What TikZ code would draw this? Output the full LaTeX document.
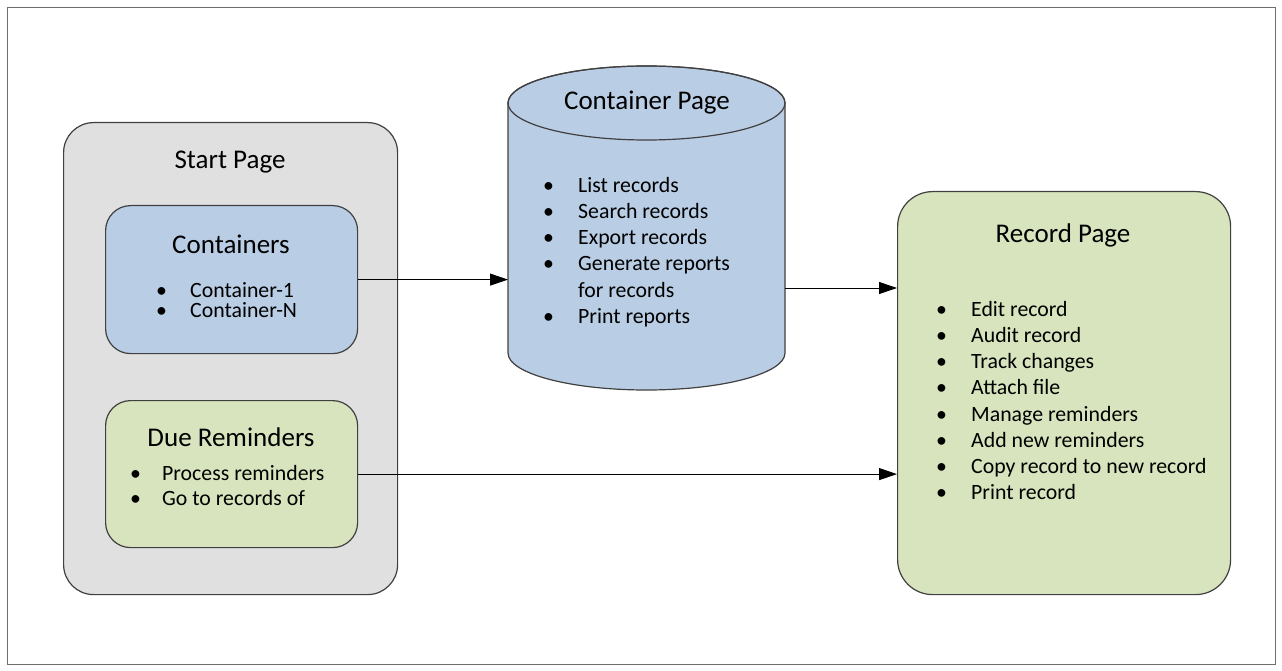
\documentclass[tikz,border=0pt]{standalone}
\usepackage{fontspec}
\setmainfont{Carlito}
\usetikzlibrary{arrows.meta}
\definecolor{boxgray}{RGB}{224,224,224}
\definecolor{boxblue}{RGB}{185,205,229}
\definecolor{boxgreen}{RGB}{215,228,189}
\definecolor{edgecol}{RGB}{64,64,64}
\definecolor{framecol}{RGB}{110,110,110}
\newcommand\bl[1]{\makebox[35pt][l]{\textbullet}#1}
\begin{document}
\begin{tikzpicture}[x=1pt,y=-1pt,
  panel/.style={draw=edgecol, line width=1.2pt, rounded corners=#1, inner sep=0pt, anchor=north west},
  title/.style={font=\fontsize{27}{32}\selectfont, text=black, inner sep=0pt},
  list/.style={font=\fontsize{21.8}{#1}\selectfont, text=black, align=left, anchor=north west, inner sep=0pt},
  conn/.style={draw=black, line width=1pt, -{Triangle[length=18pt,width=12pt]}}]
\useasboundingbox (0,0) rectangle (1282,671);
\draw[framecol, line width=1pt] (7,8) rectangle (1275,664);

% Start page
\node[panel=30pt, fill=boxgray, minimum width=334pt, minimum height=472pt] (start) at (63,122) {};
\node[title] (starttitle) at (230,162) {Start Page};

\node[panel=25pt, fill=boxblue, minimum width=252pt, minimum height=148pt] (cont) at (105,205) {};
\node[title] (conttitle) at (231,244) {Containers};
\node[list=20pt] (contlist) at (156,282) {\makebox[34pt][l]{\textbullet}Container-1\\\makebox[34pt][l]{\textbullet}Container-N};

\node[panel=25pt, fill=boxgreen, minimum width=252pt, minimum height=147pt] (due) at (105,400) {};
\node[title] (duetitle) at (231,437) {Due Reminders};
\node[list=25pt] (duelist) at (130,465) {\makebox[32pt][l]{\textbullet}Process reminders\\\makebox[32pt][l]{\textbullet}Go to records of};

% Container page cylinder
\path[draw=edgecol, fill=boxblue, line width=1.2pt] (508,103) -- (508,353)
  arc[start angle=180, end angle=0, x radius=138.5, y radius=37] -- (785,103)
  arc[start angle=360, end angle=180, x radius=138.5, y radius=37] -- cycle;
\draw[edgecol, line width=1.2pt] (646.5,103) ellipse[x radius=138.5, y radius=37];
\node[inner sep=0pt, minimum width=277pt, minimum height=324pt, anchor=north west] (cyl) at (508,66) {};
\node[title] (cyltitle) at (647,103) {Container Page};
\node[list=26.2pt] (cyllist) at (543,177) {\bl{List records}\\\bl{Search records}\\\bl{Export records}\\\bl{Generate reports}\\\hspace*{35pt}for records\\\bl{Print reports}};

% Record page
\node[panel=35pt, fill=boxgreen, minimum width=333pt, minimum height=403pt] (rec) at (897,191) {};
\node[title] (rectitle) at (1063,235) {Record Page};
\node[list=26.2pt] (reclist) at (936,301) {\bl{Edit record}\\\bl{Audit record}\\\bl{Track changes}\\\bl{Attach file}\\\bl{Manage reminders}\\\bl{Add new reminders}\\\bl{Copy record to new record}\\\bl{Print record}};

% connectors
\coordinate (cylout) at (785,288);
\draw[conn] (cont.east) -- (cont.east -| cyl.west);
\draw[conn] (cylout) -- (cylout -| rec.west);
\draw[conn] (due.east) -- (due.east -| rec.west);
\end{tikzpicture}
\end{document}
